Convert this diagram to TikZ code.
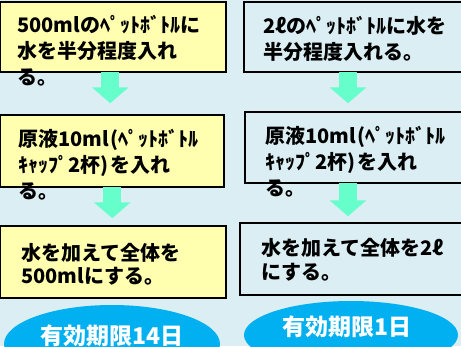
\documentclass[tikz,border=0pt]{standalone}
\usepackage{fontspec}
\newfontfamily\jp{Noto Sans CJK JP}
\usetikzlibrary{shapes.geometric,arrows.meta}
\definecolor{bg}{HTML}{DAEEF3}
\definecolor{ylw}{HTML}{FFFFAF}
\definecolor{mint}{HTML}{66FFCC}
\definecolor{oval}{HTML}{00B0F0}
\begin{document}
\begin{tikzpicture}[x=1pt,y=-1pt,
  box/.style={draw=black,line width=1.5pt,inner sep=0pt},
  ybox/.style={box,fill=ylw},
  bbox/.style={box,fill=bg},
  txt/.style={inner sep=0pt,anchor=west,align=left,text=black},
  f26/.style={font=\jp\bfseries\fontsize{20}{26}\selectfont},
  f23/.style={font=\jp\bfseries\fontsize{20}{23}\selectfont},
  f24/.style={font=\jp\bfseries\fontsize{20}{24}\selectfont},
  bigarrow/.style={draw=mint,fill=mint,line width=18pt,-{Triangle[width=36pt,length=16pt]}},
  oval/.style={ellipse,fill=oval,inner sep=0pt},
  ovtxt/.style={inner sep=0pt,text=white,font=\jp\bfseries\fontsize{23}{28}\selectfont}]
\useasboundingbox (0,0) rectangle (461,346);
\clip (0,0) rectangle (461,346);
\fill[bg] (0,0) rectangle (461,346);
% boxes
\path (113.25,37) node[ybox,minimum width=225.5pt,minimum height=70pt] (l1) {};
\path (112.25,151) node[ybox,minimum width=223.5pt,minimum height=72pt] (l2) {};
\path (113.25,262) node[ybox,minimum width=225.5pt,minimum height=72pt] (l3) {};
\path (359.5,37) node[bbox,minimum width=231pt,minimum height=70pt] (r1) {};
\path (360,147.5) node[bbox,minimum width=230pt,minimum height=71pt] (r2) {};
\path (357.5,259) node[bbox,minimum width=235pt,minimum height=72pt] (r3) {};
% arrows
\draw[bigarrow,shorten >=11pt] ([xshift=-3pt,yshift=0.75pt]l1.south) -- ([xshift=-3pt]l1.south |- l2.north);
\draw[bigarrow,shorten >=7pt] ([yshift=0.75pt]l2.south) -- (l2.south |- l3.north);
\draw[bigarrow,shorten >=8pt] ([xshift=-11.5pt,yshift=0.75pt]r1.south) -- ([xshift=-11.5pt]r1.south |- r2.north);
\draw[bigarrow,shorten >=6pt] ([xshift=-12pt,yshift=0.75pt]r2.south) -- ([xshift=-12pt]r2.south |- r3.north);
% texts
\node[txt,f26] (l1t) at (17,51) {500mlのﾍﾟｯﾄﾎﾞﾄﾙに\\水を半分程度入れ\\る。};
\node[txt,f26] (l2t) at (18,165) {原液10ml\hspace{2pt}(ﾍﾟｯﾄﾎﾞﾄﾙ\\ｷｬｯﾌﾟ2杯)\hspace{2pt}を入れ\\る。};
\node[txt,f23] (l3t) at (21,264.5) {水を加えて全体を\\500mlにする。};
\node[txt,f26] (r1t) at (263,39) {2ℓのﾍﾟｯﾄﾎﾞﾄﾙに水を\\半分程度入れる。};
\node[txt,f26] (r2t) at (265,161.5) {原液10ml\hspace{2pt}(ﾍﾟｯﾄﾎﾞﾄﾙ\\ｷｬｯﾌﾟ2杯)\hspace{2pt}を入れ\\る。};
\node[txt,f24] (r3t) at (261,260) {水を加えて全体を2ℓ\\にする。};
% ovals
\node[oval,minimum width=216pt,minimum height=78pt] (lo) at (112,344) {};
\node[ovtxt] (lot) at (112,336) {有効期限14日};
\node[oval,minimum width=214pt,minimum height=68pt] (ro) at (351,335) {};
\node[ovtxt] (rot) at (347,327) {有効期限1日};
\end{tikzpicture}
\end{document}
